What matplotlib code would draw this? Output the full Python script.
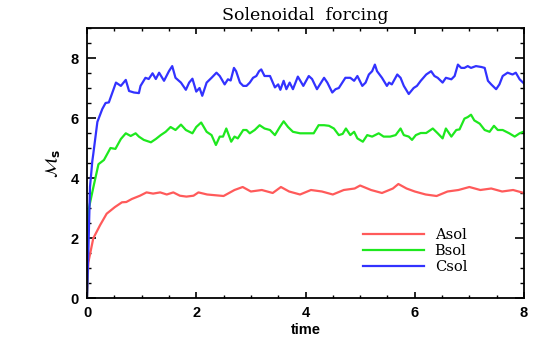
import matplotlib
matplotlib.use("Agg")
import matplotlib.pyplot as plt
from matplotlib.ticker import MultipleLocator

# ---- data ----
t_c = [0.0, 0.024, 0.055, 0.097, 0.115, 0.19, 0.28, 0.34, 0.40, 0.53, 0.62, 0.71, 0.77, 0.86, 0.95, 0.98,
       1.07, 1.13, 1.20, 1.26, 1.32, 1.41, 1.50, 1.56, 1.62, 1.72, 1.81, 1.87, 1.93, 2.00, 2.06, 2.11,
       2.19, 2.28, 2.37, 2.43, 2.52, 2.58, 2.63, 2.69, 2.73, 2.80, 2.86, 2.92, 2.98, 3.04, 3.10, 3.15,
       3.19, 3.25, 3.35, 3.44, 3.50, 3.54, 3.60, 3.65, 3.71, 3.77, 3.86, 3.96, 4.06, 4.12, 4.21, 4.34,
       4.40, 4.49, 4.55, 4.61, 4.73, 4.82, 4.89, 4.95, 5.04, 5.10, 5.16, 5.22, 5.27, 5.31, 5.40, 5.49,
       5.53, 5.58, 5.68, 5.74, 5.80, 5.89, 5.98, 6.04, 6.11, 6.21, 6.30, 6.36, 6.42, 6.51, 6.57, 6.67,
       6.73, 6.79, 6.85, 6.91, 6.97, 7.03, 7.12, 7.22, 7.28, 7.34, 7.40, 7.49, 7.55, 7.61, 7.70, 7.79,
       7.85, 7.92, 8.0]
v_c = [0.0, 1.5, 3.7, 4.56, 4.8, 5.87, 6.3, 6.5, 6.52, 7.18, 7.07, 7.27, 6.9, 6.85, 6.83, 7.07,
       7.34, 7.3, 7.49, 7.3, 7.51, 7.24, 7.56, 7.73, 7.34, 7.18, 6.94, 7.18, 7.31, 6.88, 7.0, 6.74,
       7.18, 7.34, 7.51, 7.4, 7.12, 7.29, 7.25, 7.67, 7.56, 7.18, 7.07, 7.07, 7.18, 7.34, 7.4, 7.56,
       7.62, 7.4, 7.4, 7.02, 7.12, 6.94, 7.24, 6.96, 7.18, 6.96, 7.38, 7.07, 7.4, 7.3, 6.96, 7.34,
       7.18, 6.85, 6.96, 7.0, 7.34, 7.34, 7.24, 7.4, 7.07, 7.18, 7.45, 7.56, 7.78, 7.56, 7.34, 7.07,
       7.18, 7.12, 7.45, 7.34, 7.07, 6.8, 7.0, 7.07, 7.24, 7.45, 7.56, 7.4, 7.34, 7.18, 7.34, 7.29,
       7.4, 7.78, 7.67, 7.67, 7.73, 7.67, 7.73, 7.7, 7.67, 7.24, 7.12, 6.96, 7.12, 7.4, 7.51, 7.45,
       7.51, 7.29, 7.15]

t_b = [0.0, 0.024, 0.115, 0.21, 0.31, 0.43, 0.52, 0.62, 0.71, 0.80, 0.89, 0.95, 1.04, 1.17, 1.26,
       1.35, 1.44, 1.53, 1.62, 1.72, 1.81, 1.93, 2.00, 2.09, 2.19, 2.28, 2.36, 2.43, 2.49, 2.55, 2.64,
       2.70, 2.76, 2.86, 2.92, 2.98, 3.07, 3.16, 3.25, 3.35, 3.44, 3.53, 3.60, 3.68, 3.77, 3.90, 4.06,
       4.15, 4.24, 4.34, 4.43, 4.52, 4.61, 4.68, 4.74, 4.82, 4.89, 4.95, 5.05, 5.13, 5.22, 5.34, 5.43,
       5.55, 5.65, 5.74, 5.80, 5.89, 5.95, 6.02, 6.11, 6.21, 6.33, 6.42, 6.51, 6.57, 6.67, 6.76, 6.82,
       6.91, 6.97, 7.03, 7.09, 7.19, 7.28, 7.37, 7.45, 7.52, 7.61, 7.73, 7.83, 7.92, 8.0]
v_b = [0.0, 2.9, 3.68, 4.46, 4.6, 5.0, 4.97, 5.3, 5.49, 5.4, 5.49, 5.38, 5.27, 5.19, 5.3,
       5.43, 5.54, 5.70, 5.6, 5.78, 5.6, 5.49, 5.70, 5.85, 5.54, 5.43, 5.10, 5.38, 5.38, 5.65, 5.21,
       5.38, 5.32, 5.6, 5.6, 5.49, 5.6, 5.76, 5.65, 5.6, 5.43, 5.70, 5.89, 5.70, 5.54, 5.49, 5.49,
       5.49, 5.76, 5.76, 5.74, 5.65, 5.43, 5.47, 5.65, 5.43, 5.54, 5.32, 5.21, 5.43, 5.38, 5.49, 5.38,
       5.38, 5.43, 5.65, 5.43, 5.38, 5.27, 5.43, 5.5, 5.5, 5.65, 5.49, 5.32, 5.65, 5.38, 5.6, 5.62,
       5.98, 6.03, 6.11, 5.92, 5.81, 5.60, 5.54, 5.74, 5.60, 5.60, 5.49, 5.38, 5.49, 5.55]

t_a = [0.0, 0.024, 0.115, 0.24, 0.36, 0.51, 0.64, 0.72, 0.82, 0.97, 1.09, 1.21, 1.34, 1.46, 1.58,
       1.70, 1.82, 1.95, 2.04, 2.2, 2.5, 2.7, 2.85, 3.0, 3.2, 3.4, 3.55, 3.7, 3.9, 4.1, 4.3, 4.5,
       4.7, 4.9, 5.0, 5.2, 5.4, 5.6, 5.7, 5.85, 6.0, 6.2, 6.4, 6.6, 6.8, 7.0, 7.2, 7.4, 7.6, 7.8, 8.0]
v_a = [0.0, 1.18, 1.99, 2.43, 2.81, 3.03, 3.19, 3.2, 3.3, 3.41, 3.52, 3.48, 3.52, 3.45, 3.52,
       3.41, 3.38, 3.41, 3.52, 3.45, 3.4, 3.6, 3.7, 3.55, 3.6, 3.5, 3.7, 3.55, 3.45, 3.6, 3.55, 3.45,
       3.6, 3.65, 3.75, 3.6, 3.5, 3.65, 3.8, 3.65, 3.55, 3.45, 3.4, 3.55, 3.6, 3.7, 3.6, 3.65, 3.55, 3.6, 3.5]

labels = ["Asol", "Bsol", "Csol"]
colors = ["#ff5a5a", "#1ee81e", "#3232ff"]

fig = plt.figure(figsize=(5.5, 3.54), dpi=100)
ax = fig.add_axes([87/550, 1-298/354, (524-87)/550, (298-28)/354])

for t, v, lab, c in zip([t_a, t_b, t_c], [v_a, v_b, v_c], labels, colors):
    ax.plot(t, v, color=c, lw=1.6, label=lab)

ax.set_xlim(0, 8)
ax.set_ylim(0, 9)
ax.xaxis.set_major_locator(MultipleLocator(2))
ax.xaxis.set_minor_locator(MultipleLocator(0.5))
ax.yaxis.set_major_locator(MultipleLocator(2))
ax.yaxis.set_minor_locator(MultipleLocator(0.5))
ax.tick_params(axis='x', which='major', direction='in', top=True, length=4, width=1.2, pad=6)
ax.tick_params(axis='x', which='minor', direction='in', top=True, length=2.2, width=1.0)
ax.tick_params(axis='y', which='major', direction='in', right=True, length=6.3, width=1.2, pad=6)
ax.tick_params(axis='y', which='minor', direction='in', right=True, length=3.2, width=1.0)
for s in ax.spines.values():
    s.set_linewidth(1.3)
for lbl in ax.get_xticklabels() + ax.get_yticklabels():
    lbl.set_fontfamily("Liberation Sans")
    lbl.set_fontweight("bold")
    lbl.set_fontsize(10.5)

ax.set_xlabel("time", fontfamily="Liberation Sans", fontweight="bold", fontsize=10.5, labelpad=2)
ax.set_ylabel(r"$\mathbf{\mathcal{M}_s}$", fontsize=12.5, labelpad=6)
ax.set_title("Solenoidal  forcing", fontfamily="DejaVu Serif", fontsize=12.5, pad=6)

leg = ax.legend(loc="upper left", bbox_to_anchor=(0.632, 0.26), frameon=False,
                handlelength=4.2, handletextpad=0.7, labelspacing=0.15,
                borderpad=0, borderaxespad=0,
                prop={"family": "DejaVu Serif", "size": 10.5})

fig.savefig("out.png", dpi=100)
